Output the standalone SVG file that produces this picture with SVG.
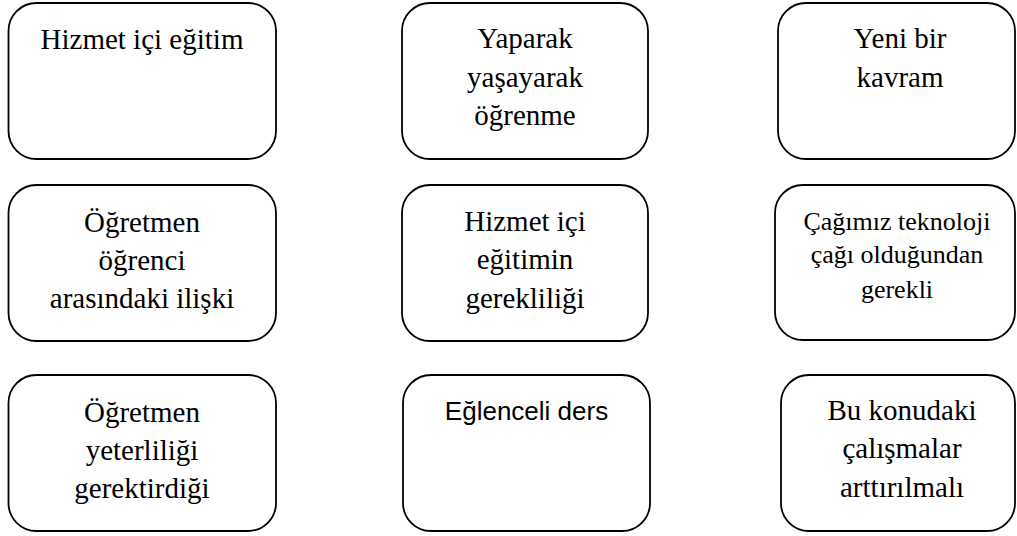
<svg xmlns="http://www.w3.org/2000/svg" width="1017" height="536" viewBox="0 0 1017 536">
<style>
.box{fill:#fff;stroke:#000;stroke-width:1.8}
.t{font-family:"Liberation Serif","Times New Roman",serif;font-size:29px;fill:#000;text-anchor:middle}
.s{font-size:26px}
.sans{font-family:"Liberation Sans",Arial,sans-serif;font-size:26px;fill:#000;text-anchor:middle}
</style>
<rect width="1017" height="536" fill="#fff"/>
<g id="connectors"></g>
<g id="n1"><rect class="box" x="8.5" y="3" width="267.5" height="156" rx="28"/><text class="t" x="142" y="49">Hizmet içi eğitim</text></g>
<g id="n2"><rect class="box" x="402" y="3" width="246" height="156" rx="28"/><text class="t" x="525" y="48">Yaparak</text><text class="t" x="525" y="87">yaşayarak</text><text class="t" x="525" y="125">öğrenme</text></g>
<g id="n3"><rect class="box" x="778" y="3" width="237" height="156" rx="28"/><text class="t" x="900" y="48">Yeni bir</text><text class="t" x="900" y="87">kavram</text></g>
<g id="n4"><rect class="box" x="8.5" y="185" width="267.5" height="156" rx="28"/><text class="t" x="142" y="232">Öğretmen</text><text class="t" x="142" y="270">öğrenci</text><text class="t" x="142" y="308">arasındaki ilişki</text></g>
<g id="n5"><rect class="box" x="402" y="185" width="246" height="156" rx="28"/><text class="t" x="525" y="231">Hizmet içi</text><text class="t" x="525" y="269">eğitimin</text><text class="t" x="525" y="308">gerekliliği</text></g>
<g id="n6"><rect class="box" x="775" y="185" width="240" height="155" rx="28"/><text class="t s" x="897" y="230">Çağımız teknoloji</text><text class="t s" x="897" y="263">çağı olduğundan</text><text class="t s" x="897" y="298">gerekli</text></g>
<g id="n7"><rect class="box" x="8.5" y="375" width="267.5" height="156" rx="28"/><text class="t" x="142" y="422">Öğretmen</text><text class="t" x="142" y="460">yeterliliği</text><text class="t" x="142" y="498">gerektirdiği</text></g>
<g id="n8"><rect class="box" x="403" y="375" width="247" height="156" rx="28"/><text class="sans" x="526.5" y="420">Eğlenceli ders</text></g>
<g id="n9"><rect class="box" x="781" y="375" width="234" height="156" rx="28"/><text class="t" x="902" y="420">Bu konudaki</text><text class="t" x="902" y="458">çalışmalar</text><text class="t" x="902" y="497">arttırılmalı</text></g>
</svg>
